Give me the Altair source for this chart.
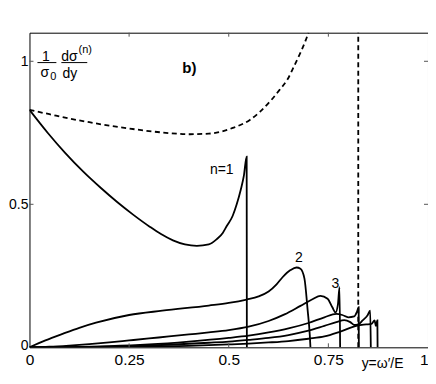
import altair as alt
import pandas as pd

FONT = "Liberation Sans"

# ---- data ----
n1_x = [0, .045, .09, .135, .18, .22, .26, .3025, .33, .36, .39, .42, .45, .47, .485, .495, .51, .52, .53, .538, .545, .5455]
n1_y = [.83, .751, .679, .614, .556, .508, .464, .421, .396, .374, .36, .355, .36, .378, .40, .424, .46, .50, .55, .60, .667, 0]

n2_x = [0, .04, .0833, .125, .167, .25, .333, .45, .5, .545, .575, .6, .62, .635, .655, .67, .68, .69, .698, .7035, .705]
n2_y = [0, .024, .047, .068, .086, .113, .128, .146, .155, .167, .178, .195, .22, .245, .27, .279, .275, .24, .13, .04, 0]

n3_x = [0, .05, .1, .15, .2, .25, .3, .35, .4, .45, .5, .55, .6, .64, .68, .71, .73, .748, .76, .768, .774, .778, .7795]
n3_y = [0, .002, .006, .011, .017, .024, .031, .038, .045, .052, .06, .072, .092, .115, .145, .168, .18, .17, .14, .122, .15, .21, 0]

n4_x = [0, .1, .2, .3, .4, .5, .55, .6, .65, .7, .74, .77, .785, .8, .815, .822, .826, .8265]
n4_y = [0, .001, .004, .01, .02, .033, .041, .052, .066, .085, .105, .117, .113, .105, .108, .125, .14, 0]

n5_x = [0, .15, .25, .35, .45, .5, .55, .6, .65, .7, .74, .77, .79, .805, .815, .825, .836, .848, .855, .8565]
n5_y = [0, .001, .004, .009, .016, .02, .026, .033, .043, .058, .075, .088, .095, .088, .078, .08, .094, .111, .128, 0]

n6_x = [0, .2, .3, .4, .5, .55, .6, .65, .7, .74, .78, .8225, .845, .858, .866, .869, .872, .873, .8735]
n6_y = [0, .001, .002, .005, .01, .013, .017, .022, .03, .038, .055, .076, .08, .082, .094, .075, .09, .094, 0]

tot_x = [0, .05, .1, .15, .2, .25, .3, .35, .4, .45, .51, .553, .578, .607, .627, .648, .665, .678, .693, .70]
tot_y = [.83, .815, .80, .787, .775, .765, .756, .749, .745, .747, .767, .795, .823, .865, .899, .938, .986, 1.024, 1.073, 1.10]

vline_x = [0.825]

x_ticks = [0, 0.25, 0.5, 0.75, 1]
y_ticks = [0, 0.5, 1]
x_inner_ticks = [0.25, 0.5, 0.75]
y_inner_ticks = [0.5, 1.0]

labels_text = ["n=1", "2", "3"]
labels_x = [.4825, .676, .7675]
labels_y = [.62, .313, .221]

# y-label pieces (fraction 1/sigma_0 dsigma^(n)/dy)
ylab_text = ["1", "σ", "0", "dσ", "(n)", "dy"]
ylab_x = [.04125, .03875, .06, .1, .14, .10125]
ylab_y = [1.0139, .9601, .9444, 1.0139, 1.0382, .9566]
ylab_size = [14, 14, 11, 14, 11, 14]
bar_x1 = [.02, .08]
bar_x2 = [.0675, .145]
bar_y = [.9955, .9955]

# ---- tables ----
rows = []
for name, xs_, ys_ in [("n1", n1_x, n1_y), ("n2", n2_x, n2_y), ("n3", n3_x, n3_y),
                       ("n4", n4_x, n4_y), ("n5", n5_x, n5_y), ("n6", n6_x, n6_y)]:
    for i, (x, y) in enumerate(zip(xs_, ys_)):
        rows.append({"s": name, "i": i, "x": x, "y": y})
df = pd.DataFrame(rows)
tot = pd.DataFrame({"x": tot_x, "y": tot_y, "i": range(len(tot_x))})

W, H = 399, 315
xs = alt.Scale(domain=[0, 1], nice=False, zero=False)
ys = alt.Scale(domain=[0, 1.1], nice=False, zero=False)

common = dict(title=None, grid=False, domain=False, ticks=False, labelFlush=False, labelOverlap=False,
              labelFont=FONT, labelColor="black",
              labelExpr="format(datum.value, '~g')")
xaxis = alt.Axis(values=x_ticks, labelPadding=5, labelFontSize=15.5,
                 labelAlign={"condition": {"test": "datum.value >= 1", "value": "right"}, "value": "center"},
                 **common)
yaxis = alt.Axis(values=y_ticks, labelPadding=1.5, labelFontSize=14,
                 labelOffset={"condition": {"test": "datum.value == 0", "value": -2}, "value": 0},
                 **common)


def X(f):
    return alt.X(f, scale=xs, axis=xaxis)


def Y(f):
    return alt.Y(f, scale=ys, axis=yaxis)


curves = alt.Chart(df).mark_line(color="black", strokeWidth=1.8, interpolate="monotone", clip=True).encode(
    x=X("x:Q"), y=Y("y:Q"), detail="s:N", order="i:Q")

total = alt.Chart(tot).mark_line(color="black", strokeWidth=1.8, strokeDash=[5, 3.5],
                                 interpolate="monotone", clip=True).encode(
    x=X("x:Q"), y=Y("y:Q"), order="i:Q")

vdf = pd.DataFrame({"x": vline_x, "y0": [0], "y1": [1.1]})
vline = alt.Chart(vdf).mark_rule(color="black", strokeWidth=1.8, strokeDash=[5, 3.5]).encode(
    x=X("x:Q"), y=Y("y0:Q"), y2="y1:Q")

bx = pd.DataFrame({"t": x_inner_ticks})
by = pd.DataFrame({"t": y_inner_ticks})
tick_col = "#555555"
tb = alt.Chart(bx).mark_rule(color=tick_col, strokeWidth=1).encode(
    x=X("t:Q"), y=alt.value(H), y2=alt.value(H - 4))
tt = alt.Chart(bx).mark_rule(color=tick_col, strokeWidth=1).encode(
    x=X("t:Q"), y=alt.value(0), y2=alt.value(4))
tl = alt.Chart(by).mark_rule(color=tick_col, strokeWidth=1).encode(
    y=Y("t:Q"), x=alt.value(0), x2=alt.value(4))
tr = alt.Chart(by).mark_rule(color=tick_col, strokeWidth=1).encode(
    y=Y("t:Q"), x=alt.value(W), x2=alt.value(W - 4))

ldf = pd.DataFrame({"t": labels_text, "x": labels_x, "y": labels_y})
labels = alt.Chart(ldf).mark_text(font=FONT, fontSize=14, color="black", align="center", baseline="middle").encode(
    x=X("x:Q"), y=Y("y:Q"), text="t:N")

ydf = pd.DataFrame({"t": ylab_text, "x": ylab_x, "y": ylab_y, "fs": ylab_size})
ylab = alt.Chart(ydf).mark_text(font=FONT, color="black", align="center", baseline="middle").encode(
    x=X("x:Q"), y=Y("y:Q"), text="t:N",
    size=alt.Size("fs:Q", scale=None, legend=None))

bdf = pd.DataFrame({"x1": bar_x1, "x2": bar_x2, "y": bar_y})
bars = alt.Chart(bdf).mark_rule(color="black", strokeWidth=1).encode(
    x=X("x1:Q"), x2="x2:Q", y=Y("y:Q"))

bdfl = pd.DataFrame({"t": ["b)"], "x": [.40125], "y": [.9774]})
blabel = alt.Chart(bdfl).mark_text(font=FONT, fontSize=15, fontWeight="bold", color="black",
                                   align="center", baseline="middle").encode(
    x=X("x:Q"), y=Y("y:Q"), text="t:N")

xl = pd.DataFrame({"t": ["y=ω′/E"], "x": [.886], "y": [-.058]})
xlabel = alt.Chart(xl).mark_text(font=FONT, fontSize=14, color="black", align="center", baseline="middle").encode(
    x=X("x:Q"), y=Y("y:Q"), text="t:N")

chart = alt.layer(curves, total, vline, tb, tt, tl, tr, labels, ylab, bars, blabel, xlabel).properties(
    width=W, height=H,
    background="white",
    autosize=alt.AutoSizeParams(type="none"),
    padding={"left": 21.5, "top": 24.5, "right": 0, "bottom": 29},
).configure_view(
    stroke="black", strokeWidth=1
)

chart.save("out.html", embed_options={"renderer": "svg", "actions": False})
